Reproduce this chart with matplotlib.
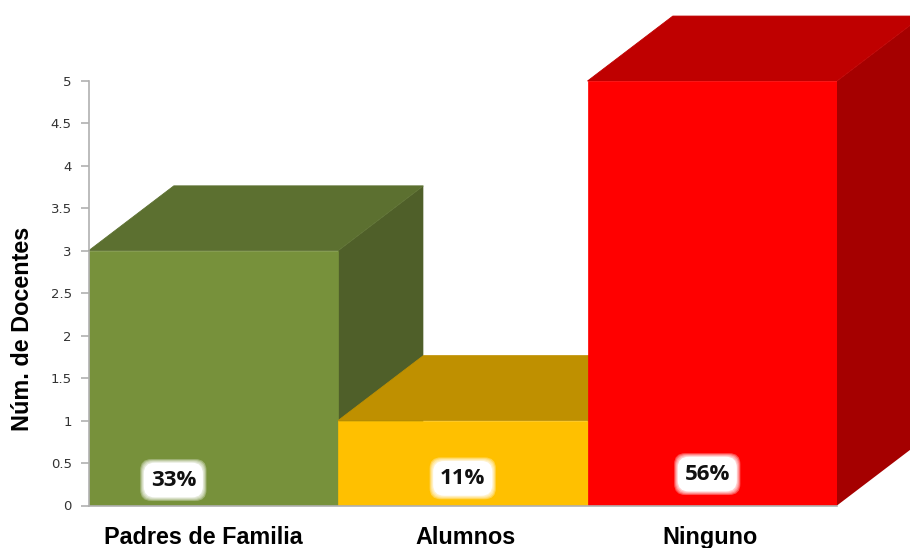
import matplotlib.pyplot as plt

categories = ["Padres de Familia", "Alumnos", "Ninguno"]
values = [3, 1, 5]
percents = ["33%", "11%", "56%"]
yticks = [0, 0.5, 1, 1.5, 2, 2.5, 3, 3.5, 4, 4.5, 5]
ytick_labels = ["0", "0.5", "1", "1.5", "2", "2.5", "3", "3.5", "4", "4.5", "5"]

front_colors = ["#77913b", "#ffc000", "#ff0000"]
top_colors = ["#5c7030", "#bf9000", "#bf0000"]
side_colors = ["#4f5f29", "#a67d00", "#a50000"]
label_x = [0.34, 1.5, 2.48]
label_y = [0.3, 0.32, 0.37]

W, H = 910, 548
DEPTH_X = 0.342  # fake 3d depth, in bar widths
DEPTH_Y = 0.765  # and in y units

fig = plt.figure(figsize=(W / 100, H / 100), dpi=100, facecolor="white")
ax = fig.add_axes([88.5 / W, 1 - 505.5 / H, 748.5 / W, 424.5 / H])
ax.set_xlim(0, 3)
ax.set_ylim(0, 5)

for i, v in enumerate(values):
    # side and top first, the next bar covers what it must
    ax.fill([i + 1, i + 1 + DEPTH_X, i + 1 + DEPTH_X, i + 1],
            [0, DEPTH_Y, v + DEPTH_Y, v],
            color=side_colors[i], lw=0, clip_on=False, zorder=2 + i)
    ax.fill([i, i + DEPTH_X, i + 1 + DEPTH_X, i + 1],
            [v, v + DEPTH_Y, v + DEPTH_Y, v],
            fc=top_colors[i], ec=top_colors[i], lw=0.6, clip_on=False, zorder=2 + i)
    ax.bar(i + 0.5, v, width=1, color=front_colors[i], edgecolor=front_colors[i],
           lw=0.5, zorder=2 + i)

    # white glow behind the percent labels, solid core on top
    for pad, alpha in [(0.47, 0.3), (0.43, 0.3), (0.39, 0.35), (0.35, 0.4), (0.31, 1)]:
        ax.text(label_x[i], label_y[i], percents[i], fontsize=16, fontweight="bold",
                family="Open Sans", color="none", ha="center", va="center", zorder=10,
                bbox=dict(boxstyle=f"round,pad={pad},rounding_size=0.5",
                          fc="white", ec="none", alpha=alpha))
    ax.text(label_x[i], label_y[i], percents[i], fontsize=16, fontweight="bold",
            family="Open Sans", color="#111111", ha="center", va="center", zorder=11)

ax.set_xticks([0.46, 1.51, 2.49])
ax.set_xticklabels(categories, fontsize=16.8, fontweight="bold",
                   family="Liberation Sans", color="black")
ax.tick_params(axis="x", length=0, pad=15)
ax.set_yticks(yticks)
ax.set_yticklabels(ytick_labels, fontsize=9.5, color="#333333")
ax.tick_params(axis="y", length=6, width=1.2, color="#b0b0b0", pad=6)

for name in ["top", "right"]:
    ax.spines[name].set_visible(False)
for name in ["left", "bottom"]:
    ax.spines[name].set_color("#b0b0b0")
    ax.spines[name].set_linewidth(1.2)
    ax.spines[name].set_zorder(20)

fig.text(23 / W, 1 - 329 / H, "Núm. de Docentes", rotation=90, fontsize=16.8,
         fontweight="bold", family="Liberation Sans", ha="center", va="center")

fig.savefig("out.png", dpi=100, facecolor="white")
